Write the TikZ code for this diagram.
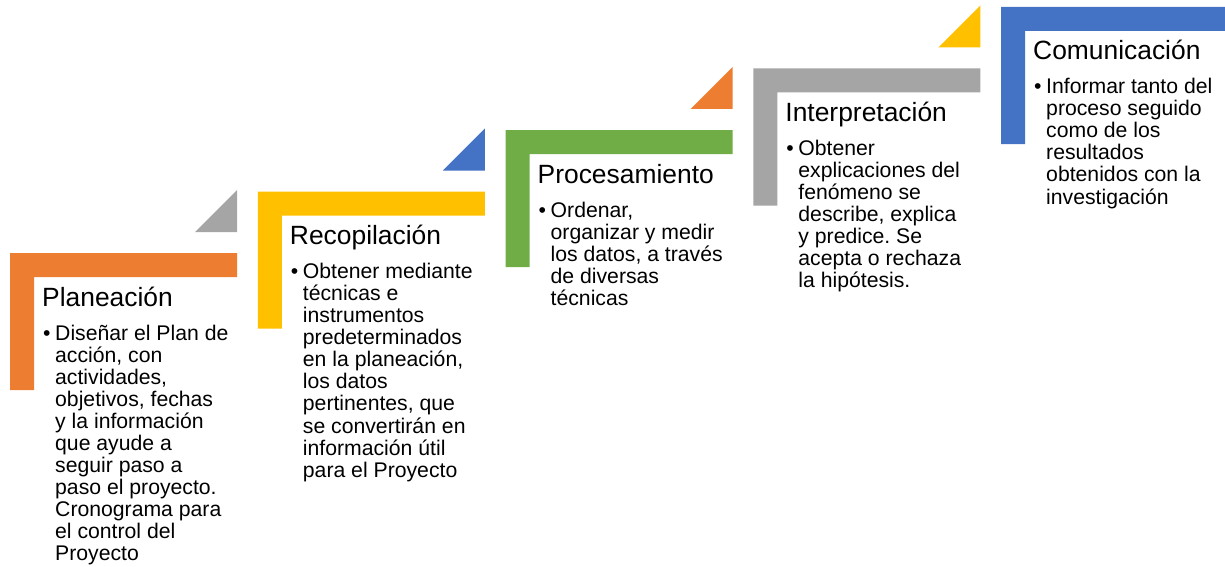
\documentclass[tikz,border=0pt]{standalone}
\usepackage{fontspec}
\setmainfont{Liberation Sans}
\frenchspacing
\definecolor{cOrange}{HTML}{ED7D31}
\definecolor{cGray}{HTML}{A5A5A5}
\definecolor{cYellow}{HTML}{FFC000}
\definecolor{cBlue}{HTML}{4472C4}
\definecolor{cGreen}{HTML}{70AD47}
\tikzset{
  ttl/.style={anchor=base west, inner sep=0pt, font=\fontsize{26.4}{30}\selectfont},
  bul/.style={anchor=base west, inner sep=0pt, font=\fontsize{21.2}{22}\selectfont},
  bodytxt/.style={anchor=base west, inner sep=0pt, font=\fontsize{21.2}{22}\selectfont\frenchspacing},
}
\newcommand{\Corner}[2]{\fill[#1] (0,0) -- (#2,0) -- (#2,24) -- (24,24) -- (24,137) -- (0,137) -- cycle;}
\newcommand{\Tri}[1]{\fill[#1] (227,-63) -- (227,-21) -- (185,-21) -- cycle;}
\newcommand{\Lines}[1]{\begin{tabular}[t]{@{}l@{}}#1\end{tabular}}
\begin{document}
\begin{tikzpicture}[x=1pt,y=-1pt]
\useasboundingbox (0,0) rectangle (1225,567);
% Step 1
\begin{scope}[shift={(10,253)}]
  \Corner{cOrange}{227}
  \Tri{cGray}
  \node[ttl] (t1) at (32,53) {Planeación};
  \node[bul] (b1) at (33,87) {•};
  \node[bodytxt] (x1) at (45,87) {\Lines{Diseñar el Plan de\\acción, con\\actividades,\\objetivos, fechas\\y la información\\que ayude a\\seguir paso a\\paso el proyecto.\\Cronograma para\\el control del\\Proyecto}};
\end{scope}
% Step 2
\begin{scope}[shift={(257.75,191.5)}]
  \Corner{cYellow}{227}
  \Tri{cBlue}
  \node[ttl] (t2) at (32,53) {Recopilación};
  \node[bul] (b2) at (33,87) {•};
  \node[bodytxt] (x2) at (45,87) {\Lines{Obtener mediante\\técnicas e\\instrumentos\\predeterminados\\en la planeación,\\los datos\\pertinentes, que\\se convertirán en\\información útil\\para el Proyecto}};
\end{scope}
% Step 3
\begin{scope}[shift={(505.5,130)}]
  \Corner{cGreen}{227}
  \Tri{cOrange}
  \node[ttl] (t3) at (32,53) {Procesamiento};
  \node[bul] (b3) at (33,87) {•};
  \node[bodytxt] (x3) at (45,87) {\Lines{Ordenar,\\organizar y medir\\los datos, a través\\de diversas\\técnicas}};
\end{scope}
% Step 4
\begin{scope}[shift={(753.25,68.5)}]
  \Corner{cGray}{227}
  \Tri{cYellow}
  \node[ttl] (t4) at (32,53) {Interpretación};
  \node[bul] (b4) at (33,87) {•};
  \node[bodytxt] (x4) at (45,87) {\Lines{Obtener\\explicaciones del\\fenómeno se\\describe, explica\\y predice. Se\\acepta o rechaza\\la hipótesis.}};
\end{scope}
% Step 5
\begin{scope}[shift={(1001,7)}]
  \Corner{cBlue}{224}
  \node[ttl] (t5) at (32,53) {Comunicación};
  \node[bul] (b5) at (33,87) {•};
  \node[bodytxt] (x5) at (45,87) {\Lines{Informar tanto del\\proceso seguido\\como de los\\resultados\\obtenidos con la\\investigación}};
\end{scope}
\end{tikzpicture}
\end{document}
